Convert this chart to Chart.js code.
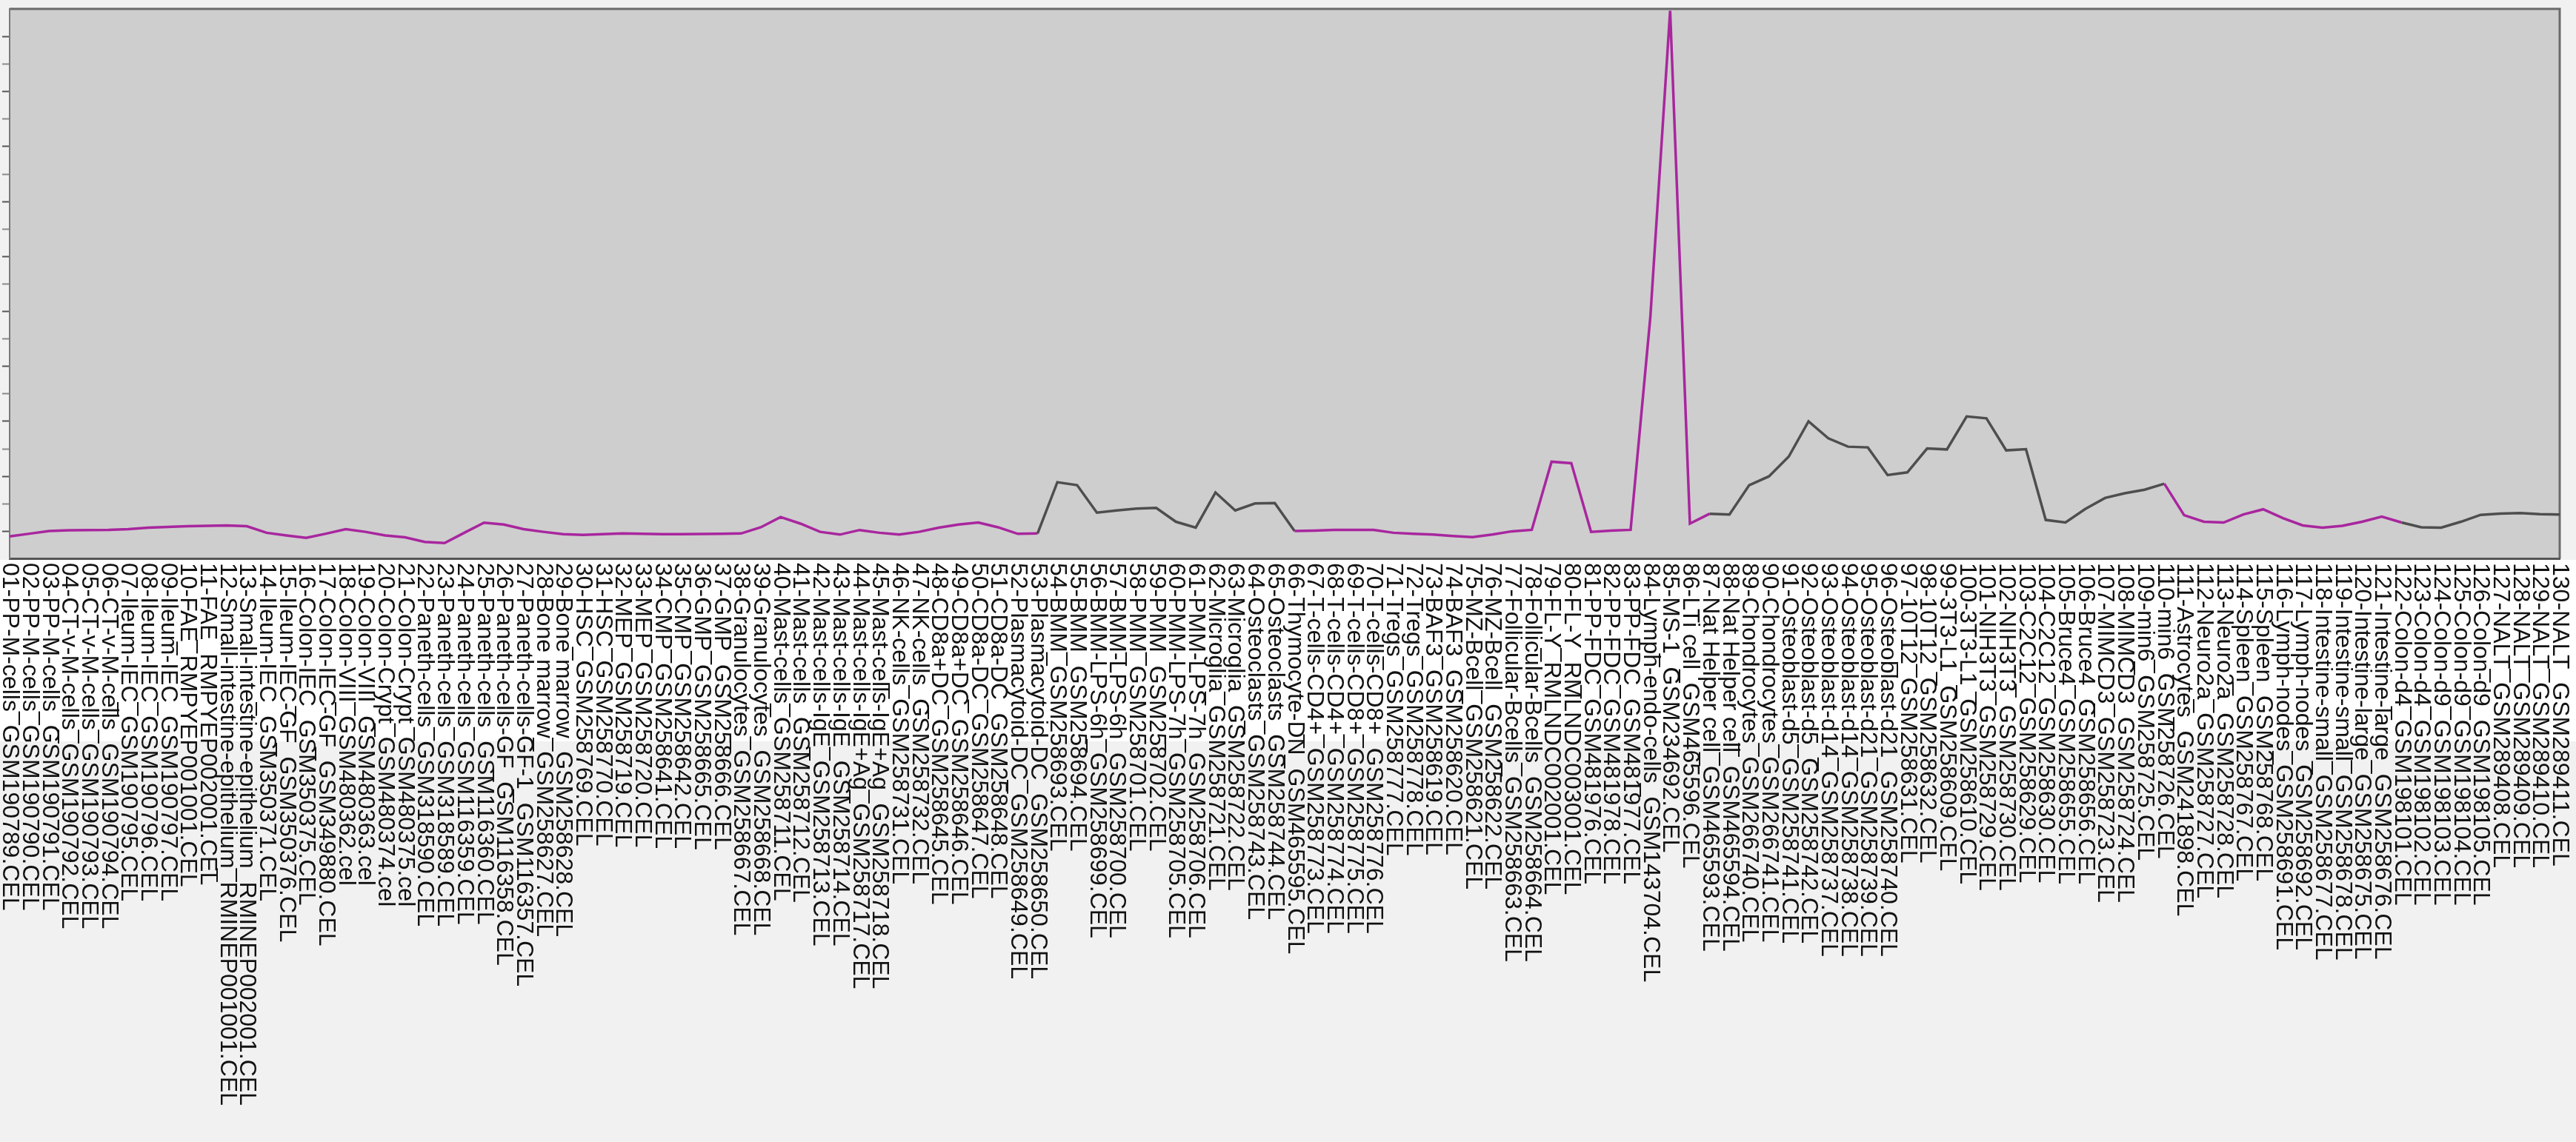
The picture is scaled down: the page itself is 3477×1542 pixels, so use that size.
<!DOCTYPE html>
<html>
<head>
<meta charset="utf-8">
<style>
  html, body { margin: 0; padding: 0; background: #f1f1f1; }
</style>
</head>
<body>
<!-- canvas for the expression profile -->
<canvas id="myChart" width="3477" height="1542"></canvas>
<script src="https://cdn.jsdelivr.net/npm/chart.js@4.4.1/dist/chart.umd.min.js"></script>
<script>
    // sample names along the x axis
    const samples = [
        '01-PP-M-cells_GSM190789.CEL', '02-PP-M-cells_GSM190790.CEL', '03-PP-M-cells_GSM190791.CEL',
        '04-CT-v-M-cells_GSM190792.CEL', '05-CT-v-M-cells_GSM190793.CEL', '06-CT-v-M-cells_GSM190794.CEL',
        '07-Ileum-IEC_GSM190795.CEL', '08-Ileum-IEC_GSM190796.CEL', '09-Ileum-IEC_GSM190797.CEL',
        '10-FAE_RMPYEP001001.CEL', '11-FAE_RMPYEP002001.CEL',
        '12-Small-intestine-epithelium_RMINEP001001.CEL', '13-Small-intestine-epithelium_RMINEP002001.CEL',
        '14-Ileum-IEC_GSM350371.CEL', '15-Ileum-IEC-GF_GSM350376.CEL', '16-Colon-IEC_GSM350375.CEL',
        '17-Colon-IEC-GF_GSM349880.CEL', '18-Colon-VIII_GSM480362.cel', '19-Colon-VIII_GSM480363.cel',
        '20-Colon-Crypt_GSM480374.cel', '21-Colon-Crypt_GSM480375.cel', '22-Paneth-cells_GSM318590.CEL',
        '23-Paneth-cells_GSM318589.CEL', '24-Paneth-cells_GSM116359.CEL', '25-Paneth-cells_GSM116360.CEL',
        '26-Paneth-cells-GF_GSM116358.CEL', '27-Paneth-cells-GF-1_GSM116357.CEL',
        '28-Bone marrow_GSM258627.CEL', '29-Bone marrow_GSM258628.CEL', '30-HSC_GSM258769.CEL',
        '31-HSC_GSM258770.CEL', '32-MEP_GSM258719.CEL', '33-MEP_GSM258720.CEL', '34-CMP_GSM258641.CEL',
        '35-CMP_GSM258642.CEL', '36-GMP_GSM258665.CEL', '37-GMP_GSM258666.CEL',
        '38-Granulocytes_GSM258667.CEL', '39-Granulocytes_GSM258668.CEL', '40-Mast-cells_GSM258711.CEL',
        '41-Mast-cells_GSM258712.CEL', '42-Mast-cells-IgE_GSM258713.CEL', '43-Mast-cells-IgE_GSM258714.CEL',
        '44-Mast-cells-IgE+Ag_GSM258717.CEL', '45-Mast-cells-IgE+Ag_GSM258718.CEL',
        '46-NK-cells_GSM258731.CEL', '47-NK-cells_GSM258732.CEL', '48-CD8a+DC_GSM258645.CEL',
        '49-CD8a+DC_GSM258646.CEL', '50-CD8a-DC_GSM258647.CEL', '51-CD8a-DC_GSM258648.CEL',
        '52-Plasmacytoid-DC_GSM258649.CEL', '53-Plasmacytoid-DC_GSM258650.CEL', '54-BMM_GSM258693.CEL',
        '55-BMM_GSM258694.CEL', '56-BMM-LPS-6h_GSM258699.CEL', '57-BMM-LPS-6h_GSM258700.CEL',
        '58-PMM_GSM258701.CEL', '59-PMM_GSM258702.CEL', '60-PMM-LPS-7h_GSM258705.CEL',
        '61-PMM-LPS-7h_GSM258706.CEL', '62-Microglia_GSM258721.CEL', '63-Microglia_GSM258722.CEL',
        '64-Osteoclasts_GSM258743.CEL', '65-Osteoclasts_GSM258744.CEL', '66-Thymocyte-DN_GSM465595.CEL',
        '67-T-cells-CD4+_GSM258773.CEL', '68-T-cells-CD4+_GSM258774.CEL', '69-T-cells-CD8+_GSM258775.CEL',
        '70-T-cells-CD8+_GSM258776.CEL', '71-Tregs_GSM258777.CEL', '72-Tregs_GSM258778.CEL',
        '73-BAF3_GSM258619.CEL', '74-BAF3_GSM258620.CEL', '75-MZ-Bcell_GSM258621.CEL',
        '76-MZ-Bcell_GSM258622.CEL', '77-Follicular-Bcells_GSM258663.CEL', '78-Follicular-Bcells_GSM258664.CEL',
        '79-FL-Y_RMLNDC002001.CEL', '80-FL-Y_RMLNDC003001.CEL', '81-PP-FDC_GSM481976.CEL',
        '82-PP-FDC_GSM481978.CEL', '83-PP-FDC_GSM481977.CEL', '84-Lymph-endo-cells_GSM143704.CEL',
        '85-MS-1_GSM234692.CEL', '86-LTi cell_GSM465596.CEL', '87-Nat Helper cell_GSM465593.CEL',
        '88-Nat Helper cell_GSM465594.CEL', '89-Chondrocytes_GSM266740.CEL', '90-Chondrocytes_GSM266741.CEL',
        '91-Osteoblast-d5_GSM258741.CEL', '92-Osteoblast-d5_GSM258742.CEL', '93-Osteoblast-d14_GSM258737.CEL',
        '94-Osteoblast-d14_GSM258738.CEL', '95-Osteoblast-d21_GSM258739.CEL', '96-Osteoblast-d21_GSM258740.CEL',
        '97-10T12_GSM258631.CEL', '98-10T12_GSM258632.CEL', '99-3T3-L1_GSM258609.CEL',
        '100-3T3-L1_GSM258610.CEL', '101-NIH3T3_GSM258729.CEL', '102-NIH3T3_GSM258730.CEL',
        '103-C2C12_GSM258629.CEL', '104-C2C12_GSM258630.CEL', '105-Bruce4_GSM258655.CEL',
        '106-Bruce4_GSM258656.CEL', '107-MIMCD3_GSM258723.CEL', '108-MIMCD3_GSM258724.CEL',
        '109-min6_GSM258725.CEL', '110-min6_GSM258726.CEL', '111-Astrocytes_GSM241898.CEL',
        '112-Neuro2a_GSM258727.CEL', '113-Neuro2a_GSM258728.CEL', '114-Spleen_GSM258767.CEL',
        '115-Spleen_GSM258768.CEL', '116-Lymph-nodes_GSM258691.CEL', '117-Lymph-nodes_GSM258692.CEL',
        '118-Intestine-small_GSM258677.CEL', '119-Intestine-small_GSM258678.CEL',
        '120-Intestine-large_GSM258675.CEL', '121-Intestine-large_GSM258676.CEL',
        '122-Colon-d4_GSM198101.CEL', '123-Colon-d4_GSM198102.CEL', '124-Colon-d9_GSM198103.CEL',
        '125-Colon-d9_GSM198104.CEL', '126-Colon-d9_GSM198105.CEL', '127-NALT_GSM289408.CEL',
        '128-NALT_GSM289409.CEL', '129-NALT_GSM289410.CEL', '130-NALT_GSM289411.CEL'
    ]

    // expression value per sample (arbitrary units)
    const expression = [
        120, 135, 150, 154, 155, 156, 160, 168, 172, 176,
        178, 180, 176, 140, 125, 112, 135, 160, 145, 125,
        115, 90, 84, 140, 195, 185, 160, 145, 132, 128,
        132, 136, 134, 132, 132, 133, 134, 136, 170, 226,
        190, 145, 130, 155, 140, 130, 145, 168, 185, 196,
        170, 134, 136, 416, 400, 250, 262, 272, 276, 200,
        168, 360, 262, 300, 302, 150, 152, 156, 156, 156,
        140, 134, 130, 122, 116, 130, 148, 156, 528, 520,
        145, 152, 156, 1320, 2990, 190, 244, 240, 400, 448,
        556, 748, 656, 610, 606, 455, 470, 600, 595, 775,
        765, 590, 596, 210, 196, 270, 330, 356, 375, 408,
        236, 200, 196, 240, 268, 220, 180, 168, 178, 200,
        228, 196, 170, 168, 200, 238, 245, 248, 242, 240
    ]

    // y tick marks (the axis shows marks only, no numbers)
    const yTickValues = [148, 298, 448, 598, 748, 898, 1048, 1198, 1348, 1498,
        1648, 1798, 1948, 2098, 2248, 2398, 2548, 2698, 2848]

    const magenta = '#a8269e'
    const darkGray = '#4e4e4e'
    // stretches of the profile that are drawn in gray
    const grayRuns = [[52, 65], [86, 109], [121, 129]]

    // backgrounds, frame and the rotated sample names
    const framePlugin = {
        id: 'frame',
        beforeDraw(chart) {
            const { ctx, chartArea: a } = chart
            ctx.save()
            ctx.fillStyle = '#f1f1f1'
            ctx.fillRect(0, 0, chart.width, chart.height)
            ctx.fillStyle = '#ffffff'
            ctx.fillRect(0, a.bottom + 2, chart.width, 245)
            ctx.fillStyle = '#cecece'
            ctx.fillRect(a.left, a.top, a.right - a.left, a.bottom - a.top)
            ctx.strokeStyle = '#6a6a6a'
            ctx.lineWidth = 3
            ctx.beginPath()
            ctx.moveTo(a.left, a.top)
            ctx.lineTo(a.right, a.top)
            ctx.lineTo(a.right, a.bottom)
            ctx.stroke()
            ctx.restore()
        },
        afterDraw(chart) {
            const { ctx, chartArea: a } = chart
            const xs = chart.scales.x
            ctx.save()
            ctx.fillStyle = '#111111'
            ctx.font = '32px "Liberation Sans", Arial, sans-serif'
            ctx.textAlign = 'left'
            ctx.textBaseline = 'middle'
            samples.forEach((name, i) => {
                ctx.save()
                ctx.translate(xs.getPixelForValue(i), a.bottom + 6)
                ctx.rotate(Math.PI / 2)
                ctx.fillText(name, 0, 0)
                ctx.restore()
            })
            ctx.restore()
        }
    }

    const ctx = document.getElementById('myChart')
    const myChart = new Chart(ctx, {
        type: 'line',
        data: {
            labels: samples,
            datasets: [{
                label: 'expression',
                data: expression,
                borderColor: magenta,
                borderWidth: 3.5,
                pointRadius: 0,
                tension: 0,
                fill: false,
                segment: {
                    borderColor: c => grayRuns.some(([s, e]) => c.p0DataIndex >= s && c.p0DataIndex < e) ? darkGray : magenta
                }
            }]
        },
        options: {
            responsive: false,
            animation: false,
            devicePixelRatio: 1,
            layout: { padding: { left: 3, right: 22, top: 12, bottom: 780 } },
            plugins: {
                legend: { display: false },
                tooltip: { enabled: false }
            },
            scales: {
                x: {
                    type: 'category',
                    offset: false,
                    ticks: { display: false },
                    grid: { display: false },
                    border: { display: true, color: '#555555', width: 3 }
                },
                y: {
                    min: 0,
                    max: 3000,
                    afterBuildTicks: axis => {
                        axis.ticks = yTickValues.map(v => ({ value: v }))
                    },
                    ticks: { display: false },
                    grid: {
                        drawOnChartArea: false,
                        drawTicks: true,
                        tickLength: 10,
                        tickWidth: 2,
                        tickColor: c => (c.tick && (c.tick.value - 148) % 300 === 0) ? '#555555' : '#8a8a8a'
                    },
                    border: { display: true, color: '#7a7a7a', width: 2 }
                }
            }
        },
        plugins: [framePlugin]
    });
</script>
</body>
</html>
